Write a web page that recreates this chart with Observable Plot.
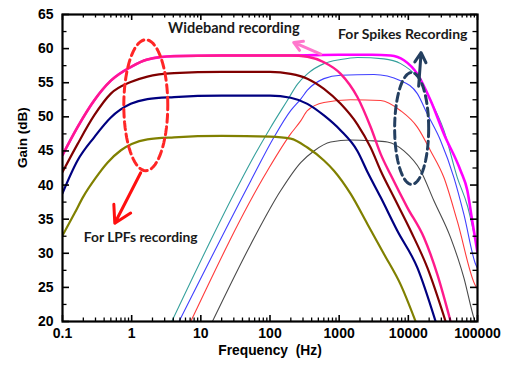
<!DOCTYPE html>
<html>
<head>
<meta charset="utf-8">
<script src="https://cdn.jsdelivr.net/npm/d3@7"></script>
<script src="https://cdn.jsdelivr.net/npm/@observablehq/plot@0.6"></script>
<style>
  html, body { margin: 0; padding: 0; background: #fff; }
  #chart { width: 505px; height: 366px; }
</style>
</head>
<body>
<div id="chart"></div>
<script>
// ---- tick labels ----
const xTicks = [0.1, 1, 10, 100, 1000, 10000, 100000];
const xTickLabels = ["0.1", "1", "10", "100", "1000", "10000", "100000"];
const yTicks = [20, 25, 30, 35, 40, 45, 50, 55, 60, 65];
const yMinorTicks = [22.5, 27.5, 32.5, 37.5, 42.5, 47.5, 52.5, 57.5, 62.5];

// ---- series values [frequency Hz, gain dB] ----
const lpfPink = [[0.1,44.4],[0.165,48.5],[0.287,52.4],[0.5,55.3],[0.97,57.3],[1.69,58.4],[4.1,58.9],[20,59.0],[200,59.0],[347,58.8],[603,58.0],[1052,56.3],[1833,52.9],[2851,48.5],[4000,44.5],[5550,41.5],[9680,36.7],[16800,32.3],[26240,26.9],[40840,20]];
const wideband = [[0.1,44.4],[0.165,48.5],[0.287,52.4],[0.5,55.3],[0.97,57.3],[1.69,58.4],[4.1,58.9],[20,59.0],[200,59.0],[1000,59.1],[3000,59.1],[5550,59.0],[8640,58.3],[13490,56.3],[21000,52.4],[32690,47.5],[57000,42.1],[71300,39.2],[84100,34.7],[100000,30.1]];
const lpfDarkRed = [[0.1,41.9],[0.165,46.0],[0.287,50.2],[0.5,53.4],[0.97,55.1],[1.69,55.9],[4.1,56.4],[20,56.6],[100,56.6],[199,56.3],[347,55.6],[603,54.1],[1052,51.9],[1833,48.9],[2851,45.5],[3981,42.1],[6190,38.2],[10800,33.3],[18830,27.9],[34600,20]];
const lpfNavy = [[0.1,38.8],[0.165,43.6],[0.287,47.0],[0.5,49.9],[0.97,51.9],[1.69,52.6],[4.1,52.9],[20,53.1],[100,53.1],[199,52.8],[347,51.9],[603,50.2],[1052,48.0],[1833,45.0],[2600,41.8],[3981,38.2],[6930,33.3],[13490,27.9],[24810,20]];
const lpfOlive = [[0.1,32.6],[0.15,35.9],[0.2,38.3],[0.3,41.0],[0.45,43.3],[0.7,45.1],[1.0,46.0],[1.69,46.7],[4.1,47.0],[20,47.2],[100,47.1],[199,46.8],[347,45.5],[603,43.6],[841,42.1],[1466,38.7],[2557,34.3],[4440,29.9],[7740,25.4],[12740,20]];
const spkTeal = [[3.8,20],[37.7,40.6],[60,44.4],[100,48.3],[178,52.4],[250,54.8],[347,56.3],[603,57.8],[1052,58.4],[1833,58.7],[4440,58.5],[7740,57.8],[13490,55.8],[21000,52.4],[32690,48.0],[51050,41.1],[71300,37.0],[100000,30.5]];
const spkBlue = [[4.84,20],[52.6,40.6],[114,47.0],[199,50.9],[278,52.6],[347,53.9],[603,55.6],[1052,56.1],[3183,56.2],[7740,55.3],[13490,53.4],[18830,50.4],[29300,46.5],[45600,41.1],[63600,35.7],[93900,28.4],[100000,27.8]];
const spkRed = [[7.14,20],[91.7,42.1],[199,47.5],[278,49.4],[347,50.9],[603,52.1],[1466,52.5],[3981,52.4],[7740,50.9],[13490,48.5],[21000,45.0],[32690,41.1],[51050,34.7],[93900,25.2],[100000,24.8]];
const spkBlack = [[14.7,20],[52.6,31.3],[143,39.2],[278,43.3],[432,45.0],[754,46.3],[1466,46.6],[2851,46.5],[4975,46.3],[8640,45.0],[15060,42.1],[23440,37.7],[40840,32.3],[63600,26.4],[88700,20.5],[92000,20]];

// ---- annotations (data coordinates) ----
const labels = [
  {text: "Wideband recording", f: 30, g: 63.0, size: 14.5},
  {text: "For Spikes Recording", f: 8300, g: 62.0, size: 14},
  {text: "For LPFs recording", f: 1.35, g: 32.3, size: 13.8}
];
const ellipses = [
  {f: 1.6, g: 51.7, rx: 0.318, ry: 9.6, color: "#ff2626"},
  {f: 11170, g: 48.3, rx: 0.246, ry: 8.2, color: "#243f60"}
];
const arrows = [
  {f1: 1.35, g1: 41.8, f2: 0.57, g2: 34.4, color: "#ff1010"},
  {f1: 541, g1: 59.2, f2: 220, g2: 60.9, color: "#ff77cc"},
  {f1: 14100, g1: 54.5, f2: 15300, g2: 59.4, color: "#243f60"}
];

// ---- build tables ----
const toRows = (arr) => arr.map(([f, g]) => ({f, g}));
const series = [
  {data: spkBlack, color: "#4a4a4a", w: 1.1},
  {data: spkRed, color: "#ff3b3b", w: 1.1},
  {data: spkBlue, color: "#4040ff", w: 1.1},
  {data: spkTeal, color: "#35a09c", w: 1.1},
  {data: lpfOlive, color: "#808000", w: 2.2},
  {data: lpfNavy, color: "#000080", w: 2.2},
  {data: lpfDarkRed, color: "#800000", w: 2.2},
  {data: wideband, color: "#ff00ff", w: 2.6},
  {data: lpfPink, color: "#ff1a8c", w: 2.4}
];

const ellipseRows = ellipses.map(e => {
  const pts = [];
  for (let i = 0; i <= 72; i++) {
    const t = (i / 72) * 2 * Math.PI;
    pts.push({f: Math.pow(10, Math.log10(e.f) + e.rx * Math.cos(t)), g: e.g + e.ry * Math.sin(t)});
  }
  return {pts, color: e.color};
});

const xMinor = [];
for (const d of [0.1, 1, 10, 100, 1000, 10000]) for (let k = 2; k <= 9; k++) xMinor.push(d * k);

const W = 505, H = 366, mL = 62, mR = 28, mT = 14, mB = 45;
const pw = W - mL - mR, ph = H - mT - mB;
const majLen = 6, minLen = 3.5;

const marks = [];
for (const s of series) {
  marks.push(Plot.line(toRows(s.data), {x: "f", y: "g", stroke: s.color, strokeWidth: s.w, curve: "monotone-x", clip: true}));
}
for (const e of ellipseRows) {
  marks.push(Plot.line(e.pts, {x: "f", y: "g", stroke: e.color, strokeWidth: 3, strokeDasharray: "8,4.5", curve: "linear"}));
}
marks.push(Plot.arrow(arrows, {x1: "f1", y1: "g1", x2: "f2", y2: "g2", stroke: "color", strokeWidth: 3, headLength: 10}));
marks.push(Plot.text(labels, {x: "f", y: "g", text: "text", fontFamily: "Lato, 'Open Sans', sans-serif", fontWeight: "bold", fontSize: d => d.size, fill: "#1a1a1a"}));

// ticks (inward) on all sides
marks.push(Plot.ruleX(xTicks, {insetTop: ph - majLen, strokeWidth: 1.6}));
marks.push(Plot.ruleX(xMinor, {insetTop: ph - minLen, strokeWidth: 1.3}));
marks.push(Plot.ruleX(xTicks, {insetBottom: ph - majLen, strokeWidth: 1.6}));
marks.push(Plot.ruleX(xMinor, {insetBottom: ph - minLen, strokeWidth: 1.3}));
marks.push(Plot.ruleY(yTicks, {insetRight: pw - majLen - 1, strokeWidth: 1.6}));
marks.push(Plot.ruleY(yMinorTicks, {insetRight: pw - minLen - 1, strokeWidth: 1.3}));
marks.push(Plot.ruleY(yTicks, {insetLeft: pw - majLen - 1, strokeWidth: 1.6}));
marks.push(Plot.ruleY(yMinorTicks, {insetLeft: pw - minLen - 1, strokeWidth: 1.3}));
marks.push(Plot.frame({stroke: "#000", strokeWidth: 2.2}));

// tick labels
marks.push(Plot.axisX(xTicks, {tickSize: 0, tickPadding: 7, tickFormat: d => xTickLabels[xTicks.indexOf(d)], label: null}));
marks.push(Plot.axisY(yTicks, {tickSize: 0, tickPadding: 9, label: null}));

// axis titles
marks.push(Plot.text(["Gain (dB)"], {frameAnchor: "left", dx: -40, rotate: -90, fontWeight: "bold", fontSize: 13.5}));
marks.push(Plot.text(["Frequency  (Hz)"], {frameAnchor: "bottom", dy: 33, fontWeight: "bold", fontSize: 13.8}));

const chart = Plot.plot({
  width: W, height: H,
  marginLeft: mL, marginRight: mR, marginTop: mT, marginBottom: mB,
  x: {type: "log", domain: [0.1, 100000]},
  y: {domain: [20, 65]},
  style: {fontFamily: "'Liberation Sans', Arial, sans-serif", fontSize: "14px", fontWeight: "bold", color: "#000", background: "#fff"},
  marks
});
document.getElementById("chart").appendChild(chart);
</script>
</body>
</html>
